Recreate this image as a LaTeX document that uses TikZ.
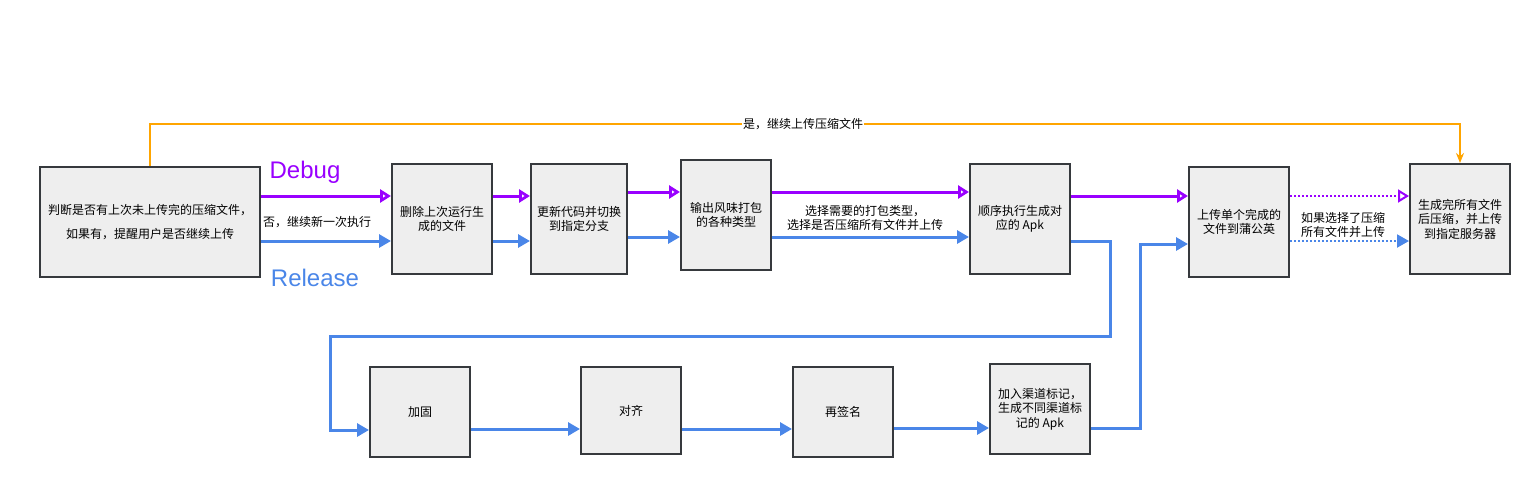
\documentclass[tikz,border=0pt]{standalone}
\usepackage{fontspec}
\setmainfont{Noto Sans CJK SC}
\newfontfamily\lib{Liberation Sans}
\usetikzlibrary{arrows.meta}
\definecolor{dbgc}{RGB}{153,0,255}
\definecolor{relc}{RGB}{74,134,232}
\definecolor{orc}{RGB}{255,165,0}
\definecolor{boxfill}{RGB}{238,238,238}
\definecolor{boxline}{RGB}{54,57,61}
\tikzset{
  box/.style={draw=boxline, fill=boxfill, line width=2pt, align=center, inner sep=2pt,
    font=\fontsize{12}{14.5}\selectfont},
  dbg/.style={draw=dbgc, line width=3pt, -{Triangle[open, fill=white, length=11pt, width=13pt]}},
  rel/.style={draw=relc, line width=3pt, -{Triangle[length=12pt, width=13pt]}},
  dbgdot/.style={dbg, line width=2pt, dotted},
  reldot/.style={rel, line width=2pt, dotted},
  orl/.style={draw=orc, line width=2pt, -{Stealth[length=10pt, width=8pt]}},
  lbl/.style={font=\fontsize{12}{14.5}\selectfont, align=center, inner sep=1pt}
}
\begin{document}
\begin{tikzpicture}[x=1pt, y=-1pt]
\useasboundingbox (0,0) rectangle (1530,477);
% boxes
\node[box, minimum width=220pt, minimum height=110pt] (a) at (150,222) {判断是否有上次未上传完的压缩文件，\\[10pt]如果有，提醒用户是否继续上传};
\node[box, minimum width=100pt, minimum height=110pt] (b) at (442,219) {删除上次运行生\\成的文件};
\node[box, minimum width=96pt, minimum height=110pt] (c) at (579,219) {更新代码并切换\\到指定分支};
\node[box, minimum width=90pt, minimum height=110pt] (d) at (726,215) {输出风味打包\\的各种类型};
\node[box, minimum width=100pt, minimum height=110pt] (e) at (1020,219) {顺序执行生成对\\应的 Apk};
\node[box, minimum width=100pt, minimum height=110pt] (f) at (1239,222) {上传单个完成的\\文件到蒲公英};
\node[box, minimum width=100pt, minimum height=110pt] (g) at (1460,219) {生成完所有文件\\后压缩，并上传\\到指定服务器};
\node[box, minimum width=100pt, minimum height=90pt] (h) at (420,412) {加固};
\node[box, minimum width=100pt, minimum height=87pt] (i) at (631,410.5) {对齐};
\node[box, minimum width=100pt, minimum height=90pt] (j) at (843,412) {再签名};
\node[box, minimum width=100pt, minimum height=90pt] (k) at (1040,409) {加入渠道标记，\\生成不同渠道标\\记的 Apk};
% row coordinates
\coordinate (rd1) at (0,196);
\coordinate (rr1) at (0,241);
\coordinate (rd2) at (0,192);
\coordinate (rr2) at (0,237);
\coordinate (rh) at (0,430);
\coordinate (rl) at (0,429);
\coordinate (rk) at (0,428);
\coordinate (rf) at (0,244);
% debug arrows
\draw[dbg] (a.east |- rd1) -- (b.west |- rd1);
\draw[dbg] (b.east |- rd1) -- (c.west |- rd1);
\draw[dbg] (c.east |- rd2) -- (d.west |- rd2);
\draw[dbg] (d.east |- rd2) -- (e.west |- rd2);
\draw[dbg] (e.east |- rd1) -- (f.west |- rd1);
\draw[dbgdot] (f.east |- rd1) -- (g.west |- rd1);
% release arrows
\draw[rel] (a.east |- rr1) -- (b.west |- rr1);
\draw[rel] (b.east |- rr1) -- (c.west |- rr1);
\draw[rel] (c.east |- rr2) -- (d.west |- rr2);
\draw[rel] (d.east |- rr2) -- (e.west |- rr2);
\draw[reldot] (f.east |- rr1) -- (g.west |- rr1);
\coordinate (e1) at (1110,241);
\coordinate (e2) at (1110,336);
\coordinate (e3) at (330,336);
\coordinate (e4) at (330,430);
\draw[rel] (e.east |- rr1) -- (e1) -- (e2) -- (e3) -- (e4) -- (h.west |- rh);
\draw[rel] (h.east |- rl) -- (i.west |- rl);
\draw[rel] (i.east |- rl) -- (j.west |- rl);
\draw[rel] (j.east |- rk) -- (k.west |- rk);
\coordinate (k1) at (1140,428);
\coordinate (k2) at (1140,244);
\draw[rel] (k.east |- rk) -- (k1) -- (k2) -- (f.west |- rf);
% orange
\coordinate (ot) at (803,124);
\draw[orl] (a.north) |- (ot) -| (g.north);
\node[lbl, fill=white] (olab) at (ot) {是，继续上传压缩文件};
% labels
\node[font=\lib\fontsize{24}{28}\selectfont, text=dbgc, inner sep=0pt] (dl) at (305,172) {Debug};
\node[font=\lib\fontsize{24}{28}\selectfont, text=relc, inner sep=0pt] (rlb) at (315,278) {Release};
\node[lbl] (nl) at (317,222) {否，继续新一次执行};
\node[lbl] (sl) at (865,218) {选择需要的打包类型，\\选择是否压缩所有文件并上传};
\node[lbl] (fl) at (1343,225) {如果选择了压缩\\所有文件并上传};
\end{tikzpicture}
\end{document}
